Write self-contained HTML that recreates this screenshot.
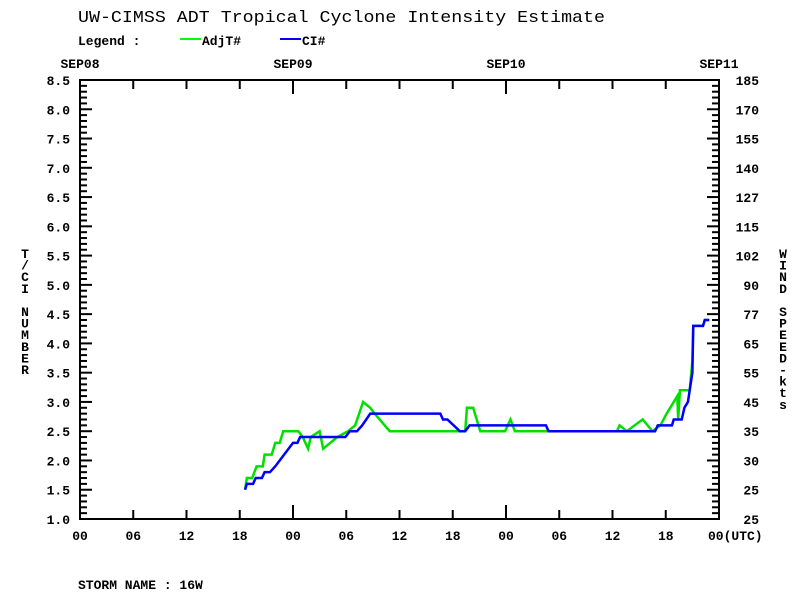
<!DOCTYPE html>
<html><head><meta charset="utf-8"><style>
body{margin:0;background:#fff}
svg text{font-family:"Liberation Mono","DejaVu Sans Mono",monospace;font-weight:bold;fill:#000}
</style></head><body>
<svg id="c" width="800" height="600" xmlns="http://www.w3.org/2000/svg">
<rect width="800" height="600" fill="#fff"/>
<text x="78" y="22" font-size="17" textLength="527" lengthAdjust="spacingAndGlyphs" style="font-weight:normal">UW-CIMSS ADT Tropical Cyclone Intensity Estimate</text>
<g>
<text x="78" y="45" font-size="13">Legend :</text>
<line x1="180" y1="39" x2="201" y2="39" stroke="#00ff00" stroke-width="2"/>
<text x="202" y="45" font-size="13">AdjT#</text>
<line x1="280" y1="39" x2="301" y2="39" stroke="#0000ff" stroke-width="2"/>
<text x="302" y="45" font-size="13">CI#</text>
</g>
<g id="axes"></g>
<g id="series"></g>
<text x="78" y="589" font-size="13">STORM NAME : 16W</text>
</svg>
<script>
const dayLabels = ["SEP08","SEP09","SEP10","SEP11"];
const hourLabels = ["00","06","12","18","00","06","12","18","00","06","12","18","00(UTC)"];
const yTicks = ["1.0","1.5","2.0","2.5","3.0","3.5","4.0","4.5","5.0","5.5","6.0","6.5","7.0","7.5","8.0","8.5"];
const windLabels = ["25","25","30","35","45","55","65","77","90","102","115","127","140","155","170","185"];
const adjHours = [18.6,18.8,19.4,19.9,20.6,20.8,21.6,22.0,22.5,22.9,24.6,25.1,25.7,26.0,27.0,27.4,29.0,30.2,31.0,31.9,32.7,33.2,34.9,43.4,43.6,44.3,45.1,47.9,48.5,49.0,60.5,60.8,61.6,63.4,64.5,65.4,66.1,67.3,67.4,67.6,67.8,68.7,69.0,69.1,70.2,70.4,70.9];
const adjVals  = [1.5,1.7,1.7,1.9,1.9,2.1,2.1,2.3,2.3,2.5,2.5,2.4,2.2,2.4,2.5,2.2,2.4,2.5,2.6,3.0,2.9,2.8,2.5,2.5,2.9,2.9,2.5,2.5,2.7,2.5,2.5,2.6,2.5,2.7,2.5,2.6,2.8,3.1,2.7,3.2,3.2,3.2,3.7,4.3,4.3,4.4,4.4];
const ciHours = [18.6,18.8,19.5,19.8,20.5,20.8,21.4,22.0,24.0,24.5,24.8,29.9,30.4,31.2,31.8,32.7,40.6,40.9,41.4,42.8,43.4,43.9,52.5,52.8,64.8,65.1,66.7,66.9,67.8,68.1,68.5,69.0,69.1,70.2,70.4,70.9];
const ciVals  = [1.5,1.6,1.6,1.7,1.7,1.8,1.8,1.9,2.3,2.3,2.4,2.4,2.5,2.5,2.6,2.8,2.8,2.7,2.7,2.5,2.5,2.6,2.6,2.5,2.5,2.6,2.6,2.7,2.7,2.9,3.0,3.5,4.3,4.3,4.4,4.4];

const NS="http://www.w3.org/2000/svg";
const L=80,R=719,T=80,B=519;
const xs=h=>L+(R-L)*h/72;
const ys=v=>B-(B-T)*(v-1)/7.5;
const ax=document.getElementById('axes');
function mk(tag,attrs,parent){const e=document.createElementNS(NS,tag);for(const k in attrs)e.setAttribute(k,attrs[k]);parent.appendChild(e);return e;}
const box=mk('rect',{x:L,y:T,width:R-L,height:B-T,fill:'none',stroke:'#000','stroke-width':2},ax);


for(let i=0;i<=75;i++){const v=1+i*0.1;const y=ys(v);const major=i%5===0;const len=major?12:7;
mk('line',{x1:L,y1:y,x2:L+len,y2:y,stroke:'#000','stroke-width':2},ax);
mk('line',{x1:R,y1:y,x2:R-len,y2:y,stroke:'#000','stroke-width':2},ax);}
yTicks.forEach((t,i)=>{const v=1+i*0.5;const e=mk('text',{x:L-10,y:ys(v)+5,'font-size':13,'text-anchor':'end'},ax);e.textContent=t;

});
windLabels.forEach((t,i)=>{const v=1+i*0.5;const e=mk('text',{x:R+40,y:ys(v)+5,'font-size':13,'text-anchor':'end'},ax);e.textContent=t;

});
hourLabels.forEach((t,i)=>{const h=i*6;const x=xs(h);const day=i%4===0;const len=day?14:9;
mk('line',{x1:x,y1:B,x2:x,y2:B-len,stroke:'#000','stroke-width':2},ax);
mk('line',{x1:x,y1:T,x2:x,y2:T+len,stroke:'#000','stroke-width':2},ax);
const e=mk('text',{x:i===12?x-11:x,y:B+21,'font-size':13,'text-anchor':i===12?'start':'middle'},ax);e.textContent=t;

});
dayLabels.forEach((t,i)=>{const e=mk('text',{x:xs(i*24),y:T-12,'font-size':13,'text-anchor':'middle'},ax);e.textContent=t;

});
"T/CI NUMBER".split('').forEach((c,i)=>{const e=mk('text',{x:25,y:258+i*11.6,'font-size':13,'text-anchor':'middle'},ax);e.textContent=c;

});
"WIND SPEED-kts".split('').forEach((c,i)=>{const e=mk('text',{x:783,y:258+i*11.6,'font-size':13,'text-anchor':'middle'},ax);e.textContent=c;

});
const sg=document.getElementById('series');
function line(hs,vs,col,name){const p=mk('polyline',{points:hs.map((h,i)=>xs(h)+','+ys(vs[i])).join(' '),fill:'none',stroke:col,'stroke-width':2.5},sg);

}
line(adjHours,adjVals,'#00e000','adjt-line');
line(ciHours,ciVals,'#0000ff','ci-line');
</script>
</body></html>
